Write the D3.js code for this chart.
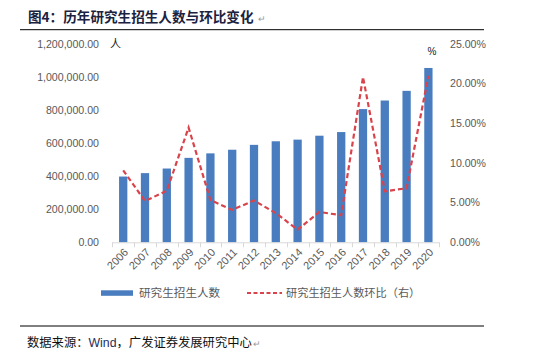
<!DOCTYPE html>
<html><head><meta charset="utf-8">
<script src="https://cdn.jsdelivr.net/npm/d3@7"></script>
<style>
html,body{margin:0;padding:0;background:#fff;}
svg{display:block;}
</style></head>
<body>
<svg id="c" width="545" height="358"></svg>
<script>
const years = ["2006","2007","2008","2009","2010","2011","2012","2013","2014","2015","2016","2017","2018","2019","2020"];
const enrollment = [397925,418612,446422,510953,538177,560168,589673,611381,621323,645055,667064,806103,857966,916503,1055000];
const growth = [9.07,5.2,6.5,14.46,5.33,4.09,5.27,3.68,1.6,3.82,3.41,20.84,6.43,6.82,21.0];
const leftTicks = [0,200000,400000,600000,800000,1000000,1200000];
const rightTicks = [0,5,10,15,20,25];
const titleText = "图4：历年研究生招生人数与环比变化";
const sourceText = "数据来源：Wind，广发证券发展研究中心";
const legendBar = "研究生招生人数";
const legendLine = "研究生招生人数环比（右）";

const svg = d3.select("#c");
const cjk = "'Noto Sans CJK SC', sans-serif";
const latin = "'Liberation Sans', Arial, sans-serif";
const gray = "#595959";

const x0 = 112.3, x1 = 439.3, yBase = 242.3, yTop = 44;
const x = d3.scaleBand().domain(years).range([x0, x1]).paddingInner(0.62).paddingOuter(0.31);
const yL = d3.scaleLinear().domain([0,1200000]).range([yBase, yTop]);
const yR = d3.scaleLinear().domain([0,25]).range([yBase, yTop]);

// title
const t = svg.append("text").attr("x",28).attr("y",21.5)
  .attr("font-family",cjk).attr("font-weight","bold").attr("font-size",13.6).attr("fill","#1b2240");
t.append("tspan").text(titleText);
t.append("tspan").attr("font-size",9).attr("font-weight","normal").attr("fill","#999").attr("dx",4).text("↵");
svg.append("line").attr("x1",20).attr("x2",484).attr("y1",29.7).attr("y2",29.7).attr("stroke","#000").attr("stroke-width",1);

// left axis labels
const fmt = d3.format(",.2f");
svg.append("g").selectAll("text").data(leftTicks).join("text")
  .attr("x",99).attr("y",d=>yL(d)+3.8).attr("text-anchor","end")
  .attr("font-family",latin).attr("font-size",10.6).attr("fill",gray).text(d=>fmt(d));
svg.append("text").attr("x",110).attr("y",48).attr("font-family",cjk).attr("font-size",11).attr("fill","#222").text("人");

// right axis labels
svg.append("g").selectAll("text").data(rightTicks).join("text")
  .attr("x",450).attr("y",d=>yR(d)+3.8).attr("text-anchor","start")
  .attr("font-family",latin).attr("font-size",10.6).attr("fill",gray).text(d=>d3.format(".2f")(d)+"%");
svg.append("text").attr("x",427.5).attr("y",55).attr("font-family",latin).attr("font-size",10).attr("fill","#222").text("%");

// bars
svg.append("g").selectAll("rect").data(years).join("rect")
  .attr("x",d=>x(d)).attr("width",x.bandwidth())
  .attr("y",(d,i)=>yL(enrollment[i])).attr("height",(d,i)=>yBase-yL(enrollment[i]))
  .attr("fill","#4a7dbf");

// x axis
const step = x.step();
const ax = svg.append("g");
ax.append("line").attr("x1",x0).attr("x2",x1).attr("y1",yBase+0.5).attr("y2",yBase+0.5).attr("stroke","#d9d9d9").attr("stroke-width",1);
ax.selectAll("line.tk").data(d3.range(years.length+1)).join("line").attr("class","tk")
  .attr("x1",i=>Math.round(x0+i*(x1-x0)/years.length)+0.5).attr("x2",i=>Math.round(x0+i*(x1-x0)/years.length)+0.5)
  .attr("y1",yBase).attr("y2",yBase+5).attr("stroke","#d9d9d9");
ax.selectAll("text").data(years).join("text")
  .attr("transform",d=>`translate(${x(d)+x.bandwidth()/2+3},${yBase+8}) rotate(-45)`)
  .attr("text-anchor","end").attr("dy","0.35em")
  .attr("font-family",latin).attr("font-size",11).attr("fill",gray).text(d=>d);

// line
const line = d3.line().x((d,i)=>x(years[i])+x.bandwidth()/2).y(d=>yR(d));
svg.append("path").datum(growth).attr("d",line).attr("fill","none")
  .attr("stroke","#d9434b").attr("stroke-width",2.2).attr("stroke-dasharray","5,3");

// legend
svg.append("rect").attr("x",101).attr("y",290.3).attr("width",32).attr("height",5.5).attr("fill","#4a7dbf");
svg.append("text").attr("x",139).attr("y",297).attr("font-family",cjk).attr("font-size",11.6).attr("fill",gray).text(legendBar);
svg.append("line").attr("x1",247).attr("x2",282).attr("y1",293).attr("y2",293).attr("stroke","#d9434b").attr("stroke-width",2).attr("stroke-dasharray","4,2.5");
svg.append("text").attr("x",286).attr("y",297).attr("font-family",cjk).attr("font-size",11.2).attr("fill",gray).text(legendLine);

// source
svg.append("line").attr("x1",20).attr("x2",484).attr("y1",326).attr("y2",326).attr("stroke","#000").attr("stroke-width",1);
const s = svg.append("text").attr("x",27).attr("y",346.5).attr("font-family",cjk).attr("font-size",12.3).attr("fill","#111");
s.append("tspan").text("数据来源：");
s.append("tspan").attr("font-family",latin).attr("fill","#1f2d5a").text("Wind");
s.append("tspan").text("，广发证券发展研究中心");
s.append("tspan").attr("font-size",9).attr("fill","#999").attr("dx",1).text("↵");
</script>
</body></html>
